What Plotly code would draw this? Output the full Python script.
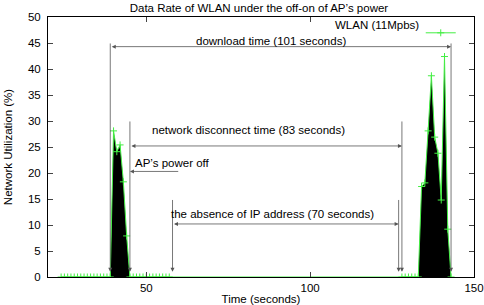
import plotly.graph_objects as go

# WLAN data rate samples (time in s, utilization in %)
time = [24, 25, 26, 27, 28, 29, 30, 31, 32, 33, 34, 35, 36, 37, 38,
        39, 40, 41, 42, 43, 44,
        45, 46, 47, 48, 49, 50, 51, 52, 53, 54, 55, 56, 57,
        128, 129, 130, 131, 132, 133,
        134, 135, 136, 137, 138, 139, 140, 141, 142, 143]
util = [0, 0, 0, 0, 0, 0, 0, 0, 0, 0, 0, 0, 0, 0, 0,
        0, 28.1, 24.1, 25.4, 18.3, 7.9,
        0, 0, 0, 0, 0, 0, 0, 0, 0, 0, 0, 0, 0,
        0, 0, 0, 0, 0, 0,
        17.4, 18.1, 28.1, 38.7, 26.9, 23.8, 14.8, 42.4, 9.2, 0]

# interval annotations: label, start, end, arrow height, top of markers, label pos
intervals = [
    ("download time (101 seconds)", 39, 143, 44.3, 45.2, 88, 45.4),
    ("network disconnect time (83 seconds)", 45, 128, 25.2, 30.2, 81.3, 28.2),
    ("the absence of IP address (70 seconds)", 58, 127, 10.2, 15.1, 88.6, 12.2),
]

font = "Liberation Sans"
fs = 11.5
grey = "#555555"
green = "#44ee44"

fig = go.Figure()
fig.add_trace(go.Scatter(
    x=time, y=util, mode="none", fill="tozeroy", fillcolor="black",
    showlegend=False, hoverinfo="skip",
))
fig.add_trace(go.Scatter(
    x=time, y=util, mode="lines+markers", name=" ",
    line=dict(color=green, width=1),
    marker=dict(symbol="cross-thin", size=5, line=dict(color=green, width=1)),
))

anns = []
for label, x0, x1, ya, ytop, xt, yt in intervals:
    # vertical markers pointing down to the time axis
    for xv in (x0, x1):
        anns.append(dict(x=xv, y=1, ax=xv, ay=ytop, xref="x", yref="y",
                         axref="x", ayref="y", text="", showarrow=True,
                         arrowhead=2, arrowsize=1, arrowwidth=0.8, arrowcolor=grey))
    # horizontal double arrow
    anns.append(dict(x=x1, y=ya, ax=x0, ay=ya, xref="x", yref="y",
                     axref="x", ayref="y", text="", showarrow=True,
                     arrowhead=2, startarrowhead=2, arrowside="end+start",
                     arrowsize=1, startarrowsize=1, arrowwidth=0.8, arrowcolor=grey))
    anns.append(dict(x=xt, y=yt, xref="x", yref="y", text=label, showarrow=False,
                     font=dict(size=fs, color="black", family=font)))

# AP power off
anns.append(dict(x=45, y=20.3, ax=60.2, ay=20.3, xref="x", yref="y",
                 axref="x", ayref="y", text="", showarrow=True,
                 arrowhead=2, arrowsize=1, arrowwidth=0.8, arrowcolor=grey))
anns.append(dict(x=45.9, y=22.0, xref="x", yref="y", text="AP’s power off",
                 showarrow=False, xanchor="left",
                 font=dict(size=fs, color="black", family=font)))

# legend label (symbol drawn by the legend to its right)
anns.append(dict(x=0.875, y=0.968, xref="paper", yref="paper", text="WLAN (11Mpbs)",
                 showarrow=False, xanchor="right", yanchor="middle",
                 font=dict(size=fs, color="black", family=font)))

fig.update_layout(
    width=484, height=305,
    margin=dict(l=48, r=10, t=17, b=28, autoexpand=False),
    paper_bgcolor="white", plot_bgcolor="white",
    font=dict(family=font, size=fs, color="black"),
    title=dict(text="Data Rate of WLAN under the off-on of AP’s power",
               x=0.535, xanchor="center", y=0.988, yanchor="top",
               font=dict(size=fs)),
    showlegend=True,
    legend=dict(x=0.99, y=0.995, xanchor="right", yanchor="top",
                bgcolor="rgba(0,0,0,0)", font=dict(size=fs),
                itemwidth=30, tracegroupgap=0),
    annotations=anns,
)
fig.update_xaxes(range=[20, 150], tickvals=[50, 100, 150], ticks="inside",
                 ticklen=5, showline=True, linecolor="black", mirror="ticks",
                 showgrid=False, zeroline=False, automargin=False,
                 title=dict(text="Time (seconds)", standoff=0, font=dict(size=fs)))
fig.update_yaxes(range=[0, 50], dtick=5, ticks="inside", ticklen=5,
                 showline=True, linecolor="black", mirror="ticks",
                 showgrid=False, zeroline=False, automargin=False,
                 ticklabelstandoff=4,
                 title=dict(text="Network Utilization (%)", standoff=12, font=dict(size=fs)))

# drop the default page margin so the figure sits at the window's corner
fig.write_html("out.html", config={"displayModeBar": False},
               post_script="document.body.style.margin='0';")
